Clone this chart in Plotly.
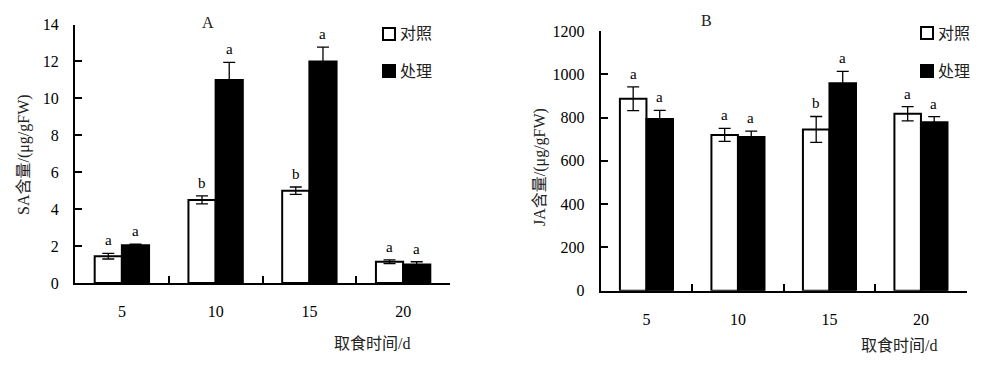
import plotly.graph_objects as go

days = ["5", "10", "15", "20"]
sa_ctrl = [1.45, 4.5, 5.0, 1.15]
sa_ctrl_err = [0.15, 0.22, 0.2, 0.1]
sa_trt = [2.05, 11.0, 12.0, 1.0]
sa_trt_err = [0.05, 0.95, 0.78, 0.15]
sa_ctrl_sig = ["a", "b", "b", "a"]
sa_trt_sig = ["a", "a", "a", "a"]

ja_ctrl = [887, 720, 745, 818]
ja_ctrl_err = [55, 30, 60, 33]
ja_trt = [793, 710, 958, 778]
ja_trt_err = [40, 27, 55, 26]
ja_ctrl_sig = ["a", "a", "b", "a"]
ja_trt_sig = ["a", "a", "a", "a"]

legend_names = ["对照", "处理"]

W, H = 988, 368
FONT = "Liberation Serif, 'Times New Roman', 'Noto Sans CJK SC', serif"

fig = go.Figure()

def add_pair(xa, ya, ctrl, cerr, trt, terr):
    fig.add_trace(go.Bar(
        x=days, y=ctrl, name=legend_names[0], xaxis=xa, yaxis=ya,
        marker=dict(color="white", line=dict(color="black", width=2)),
        error_y=dict(type="data", array=cerr, color="black", thickness=1.3, width=6),
        showlegend=False,
    ))
    fig.add_trace(go.Bar(
        x=days, y=trt, name=legend_names[1], xaxis=xa, yaxis=ya,
        marker=dict(color="black", line=dict(color="black", width=2)),
        error_y=dict(type="data", array=terr, color="black", thickness=1.3, width=6),
        showlegend=False,
    ))

add_pair("x", "y", sa_ctrl, sa_ctrl_err, sa_trt, sa_trt_err)
add_pair("x2", "y2", ja_ctrl, ja_ctrl_err, ja_trt, ja_trt_err)

annotations = []
def add_letters(xref, yref, vals, errs, sigs, shift):
    for i, (v, e, s) in enumerate(zip(vals, errs, sigs)):
        annotations.append(dict(
            x=i, y=v + e, xref=xref, yref=yref, text=s, showarrow=False,
            xshift=shift, yshift=3, yanchor="bottom",
            font=dict(family=FONT, size=15, color="black"),
        ))

add_letters("x", "y", sa_ctrl, sa_ctrl_err, sa_ctrl_sig, -13.5)
add_letters("x", "y", sa_trt, sa_trt_err, sa_trt_sig, 13.5)
add_letters("x2", "y2", ja_ctrl, ja_ctrl_err, ja_ctrl_sig, -13)
add_letters("x2", "y2", ja_trt, ja_trt_err, ja_trt_sig, 13)

def px_x(p):
    return p / W

def px_y(p):
    return 1 - p / H

text_annots = [
    ("A", 208, 22, 16, 0),
    ("B", 706, 20, 16, 0),
    ("取食时间/d", 372, 343, 16, 0),
    ("取食时间/d", 899, 345, 16, 0),
    ("SA含量/(μg/gFW)", 24, 155, 16, -90),
    ("JA含量/(μg/gFW)", 540, 167, 16, -90),
]
for t, x, y, s, ang in text_annots:
    annotations.append(dict(
        x=px_x(x), y=px_y(y), xref="paper", yref="paper", text=t,
        showarrow=False, xanchor="center", yanchor="middle", textangle=ang,
        font=dict(family=FONT, size=s, color="#222"),
    ))

# manual legends (key boxes + labels)
shapes = []
legend_pos = [(383, 34, 71), (921, 33, 71)]
for lx, y1, y2 in legend_pos:
    for (yc, fill, name) in [(y1, "white", legend_names[0]), (y2, "black", legend_names[1])]:
        shapes.append(dict(
            type="rect", xref="paper", yref="paper",
            x0=px_x(lx), x1=px_x(lx + 12), y0=px_y(yc - 6), y1=px_y(yc + 6),
            fillcolor=fill, line=dict(color="black", width=2),
        ))
        annotations.append(dict(
            x=px_x(lx + 15), y=px_y(yc), xref="paper", yref="paper", text=name,
            showarrow=False, xanchor="left", yanchor="middle",
            font=dict(family=FONT, size=16, color="#222"),
        ))

xcommon = dict(
    type="category", showline=True, linecolor="black", linewidth=2,
    ticks="inside", tickson="boundaries", ticklen=7, tickwidth=2, tickcolor="black",
    showgrid=False, zeroline=False, ticklabelstandoff=13, range=[-0.5, 3.5],
    tickangle=0, automargin=False,
    tickfont=dict(family=FONT, size=16, color="black"), fixedrange=True,
)
ycommon = dict(
    showline=True, linecolor="black", linewidth=2, ticks="inside", ticklen=7,
    tickwidth=2, tickcolor="black", showgrid=False, zeroline=False, automargin=False,
    ticklabelstandoff=11,
    tickfont=dict(family=FONT, size=16, color="black"), fixedrange=True,
)

fig.update_layout(
    width=W, height=H, margin=dict(l=0, r=0, t=0, b=0, pad=0, autoexpand=False),
    paper_bgcolor="white", plot_bgcolor="white",
    barmode="group", bargap=0.42, bargroupgap=0,
    font=dict(family=FONT, size=16, color="black"),
    xaxis=dict(domain=[px_x(75), px_x(450)], anchor="y", **xcommon),
    yaxis=dict(domain=[px_y(283), px_y(24.5)], anchor="x", range=[0, 14], dtick=2, **ycommon),
    xaxis2=dict(domain=[px_x(600.7), px_x(966.7)], anchor="y2", **xcommon),
    yaxis2=dict(domain=[px_y(290.7), px_y(31)], anchor="x2", range=[0, 1200], dtick=200, **ycommon),
    annotations=annotations,
    shapes=shapes,
    showlegend=False,
)

fig.write_html(
    "out.html",
    config={"displayModeBar": False},
    post_script="document.body.style.margin='0';",
)
